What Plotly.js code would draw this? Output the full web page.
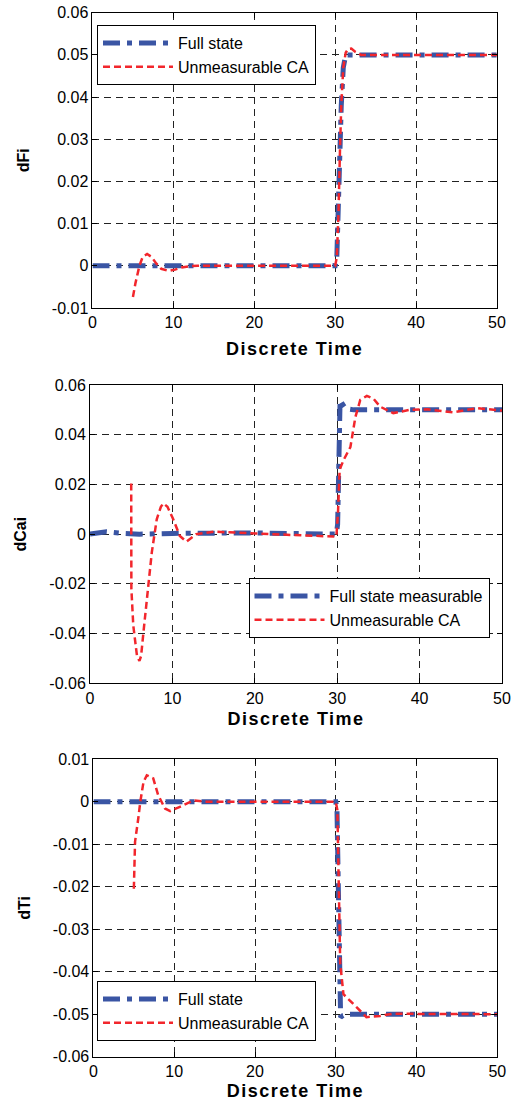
<!DOCTYPE html>
<html><head><meta charset="utf-8">
<script src="https://cdn.plot.ly/plotly-3.0.1.min.js"></script>
<style>body{margin:0;background:#fff}#chart{width:517px;height:1101px}</style>
</head><body><div id="chart"></div>
<script>
// ---- data ----
const fs1_x = [0, 30, 30.2, 30.4, 30.6, 30.75, 31.0, 31.3, 32, 50];
const fs1_y = [0, 0, 0.002, 0.012, 0.028, 0.038, 0.047, 0.05, 0.05, 0.05];
const ca1_x = [5, 5.3, 5.8, 6.2, 6.75, 7.3, 7.9, 8.5, 9.4, 10.2, 11, 12, 13, 30, 30.2, 30.4, 30.6, 30.75, 31.0, 31.3, 31.6, 32.0, 32.5, 33.2, 50];
const ca1_y = [-0.0074, -0.0042, 0, 0.0021, 0.0028, 0.0021, 0.0005, -0.0007, -0.0012, -0.0009, -0.0004, -0.0001, 0, 0, 0.002, 0.012, 0.028, 0.038, 0.047, 0.0505, 0.0514, 0.0515, 0.0507, 0.05, 0.05];

const fs2_x = [0, 2, 4, 6, 10, 20, 29.9, 30.05, 30.15, 30.25, 30.35, 30.6, 31, 32, 50];
const fs2_y = [0, 0.001, 0.0003, 0, 0.0003, 0.0005, 0, 0.004, 0.02, 0.045, 0.054, 0.0525, 0.0505, 0.05, 0.05];
const ca2_x = [5, 5.02, 5.25, 5.7, 6.0, 6.2, 6.5, 7.1, 7.5, 8.1, 8.6, 8.9, 9.4, 10.1, 10.9, 11.7, 12.9, 15, 18, 22, 29.9, 30.1, 30.3, 30.8, 31.6, 32.2, 32.8, 33.6, 34.4, 35.2, 36.8, 38.8, 41, 44, 47, 50];
const ca2_y = [0.0204, -0.022, -0.0367, -0.049, -0.051, -0.049, -0.039, -0.0207, -0.0073, 0.006, 0.011, 0.0124, 0.011, 0.006, -0.0007, -0.003, 0, 0.001, 0.0005, 0, -0.001, 0.009, 0.026, 0.03, 0.035, 0.047, 0.054, 0.0556, 0.0545, 0.0513, 0.0487, 0.05, 0.0502, 0.049, 0.0507, 0.0497];

const fs3_x = [0, 30, 30.15, 30.3, 30.45, 30.6, 30.9, 31.5, 50];
const fs3_y = [0, 0, -0.002, -0.02, -0.045, -0.0507, -0.0503, -0.05, -0.05];
const ca3_x = [5, 5.15, 5.55, 5.8, 6.2, 6.6, 7.4, 8.0, 8.85, 9.5, 10.7, 12.4, 14, 30, 30.2, 30.35, 30.45, 30.55, 30.95, 31.8, 32.6, 33.8, 35.5, 37, 50];
const ca3_y = [-0.0205, -0.0094, -0.0039, 0, 0.0047, 0.0062, 0.0055, 0.0016, -0.0016, -0.0022, -0.0012, 0.0003, 0, 0, -0.002, -0.015, -0.03, -0.038, -0.0453, -0.047, -0.0484, -0.0507, -0.0504, -0.0499, -0.05];

const names1 = ["Full state", "Unmeasurable CA"];
const names2 = ["Full state measurable", "Unmeasurable CA"];
const names3 = ["Full state", "Unmeasurable CA"];
const yTitles = ["dFi", "dCai", "dTi"];
const xTitle = "Discrete Time";

const xTicks = [0, 10, 20, 30, 40, 50];
const xTickText = ["0", "10", "20", "30", "40", "50"];
const y1Ticks = [-0.01, 0, 0.01, 0.02, 0.03, 0.04, 0.05, 0.06];
const y1Text = ["-0.01", "0", "0.01", "0.02", "0.03", "0.04", "0.05", "0.06"];
const y2Ticks = [-0.06, -0.04, -0.02, 0, 0.02, 0.04, 0.06];
const y2Text = ["-0.06", "-0.04", "-0.02", "0", "0.02", "0.04", "0.06"];
const y3Ticks = [-0.06, -0.05, -0.04, -0.03, -0.02, -0.01, 0, 0.01];
const y3Text = ["-0.06", "-0.05", "-0.04", "-0.03", "-0.02", "-0.01", "0", "0.01"];

// ---- styles ----
const BLUE = "#3a55a4", RED = "#f2262c";
const blueLine = {color: BLUE, width: 5, dash: "17px,7px,5px,7px"};
const redLine = {color: RED, width: 2.5, dash: "7px,4px"};
const FONT = "Liberation Sans, Arial, sans-serif";

function tr(x, y, name, line, xa, ya, lg) {
  return {x: x, y: y, name: name, type: "scatter", mode: "lines", line: line,
          xaxis: xa, yaxis: ya, legend: lg};
}
const data = [
  tr(fs1_x, fs1_y, names1[0], blueLine, "x", "y", "legend"),
  tr(ca1_x, ca1_y, names1[1], redLine, "x", "y", "legend"),
  tr(fs2_x, fs2_y, names2[0], blueLine, "x2", "y2", "legend2"),
  tr(ca2_x, ca2_y, names2[1], redLine, "x2", "y2", "legend2"),
  tr(fs3_x, fs3_y, names3[0], blueLine, "x3", "y3", "legend3"),
  tr(ca3_x, ca3_y, names3[1], redLine, "x3", "y3", "legend3")
];

function xax(dom, anchor, standoff) {
  return {domain: dom, anchor: anchor, range: [0, 50], tickvals: xTicks, ticktext: xTickText,
    showline: true, mirror: "ticks", linecolor: "#000", linewidth: 1,
    ticks: "inside", ticklen: 5, tickcolor: "#000",
    showgrid: true, gridcolor: "#222", gridwidth: 1, griddash: "7px,5px",
    zeroline: false, tickfont: {size: 16, color: "#000"},
    title: {text: xTitle, font: {size: 18, color: "#000", weight: "bold"}, standoff: standoff}};
}
function yax(dom, anchor, range, tv, tt, title) {
  return {domain: dom, anchor: anchor, range: range, tickvals: tv, ticktext: tt,
    showline: true, mirror: "ticks", linecolor: "#000", linewidth: 1,
    ticks: "inside", ticklen: 5, tickcolor: "#000",
    showgrid: true, gridcolor: "#222", gridwidth: 1, griddash: "7px,5px",
    zeroline: false, tickfont: {size: 16, color: "#000"},
    title: {text: title, font: {size: 16, color: "#000", weight: "bold"}, standoff: 18}};
}
const legBase = {bgcolor: "#fff", bordercolor: "#000", borderwidth: 1,
  font: {size: 16, color: "#000"}, itemwidth: 70, xanchor: "left", yanchor: "top",
  tracegroupgap: 0};

const layout = {
  width: 517, height: 1101, margin: {l: 0, r: 0, t: 0, b: 0},
  paper_bgcolor: "#fff", plot_bgcolor: "#fff",
  font: {family: FONT, color: "#000"},
  showlegend: true,
  xaxis: xax([0.1789, 0.9613], "y", 12),
  yaxis: yax([0.72025, 0.98847], "x", [-0.01, 0.06], y1Ticks, y1Text, yTitles[0]),
  xaxis2: xax([0.1741, 0.9710], "y2", 6),
  yaxis2: yax([0.37938, 0.65032], "x2", [-0.06, 0.06], y2Ticks, y2Text, yTitles[1]),
  xaxis3: xax([0.1808, 0.9619], "y3", 7),
  yaxis3: yax([0.04024, 0.31045], "x3", [-0.06, 0.01], y3Ticks, y3Text, yTitles[2]),
  legend: Object.assign({}, legBase, {x: 97/517, y: 1 - 25/1101}),
  legend2: Object.assign({}, legBase, {x: 248.5/517, y: 1 - 578/1101}),
  legend3: Object.assign({}, legBase, {x: 97/517, y: 1 - 981/1101})
};

Plotly.newPlot("chart", data, layout, {displayModeBar: false, staticPlot: true}).then(function () {
  document.querySelectorAll(".xtitle, .x2title, .x3title").forEach(function (t) {
    t.setAttribute("letter-spacing", "1.5px");
  });
});
</script></body></html>
